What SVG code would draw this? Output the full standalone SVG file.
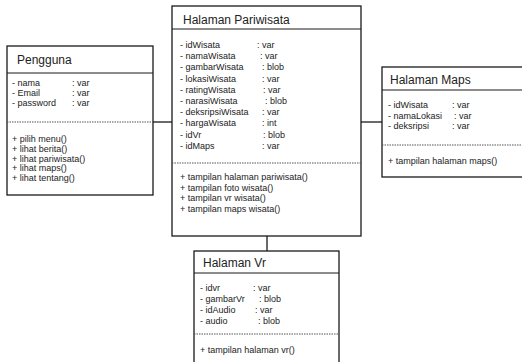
<svg xmlns="http://www.w3.org/2000/svg" width="522" height="362" viewBox="0 0 522 362">
<style>
.box{fill:#fff;stroke:#1a1a1a;stroke-width:1.3}
.sep{stroke:#1a1a1a;stroke-width:1.2}
.dot{stroke:#555;stroke-width:1;stroke-dasharray:1.5 1}
.conn{stroke:#1a1a1a;stroke-width:1.3;fill:none}
text{font-family:"Liberation Sans",Arial,sans-serif;fill:#222}
.t{font-size:12px}
.a{font-size:9px}
</style>
<rect width="522" height="362" fill="#fff"/>
<g id="connectors">
<line class="conn" x1="153" y1="122" x2="172" y2="122"/>
<line class="conn" x1="361" y1="122" x2="382" y2="122"/>
<line class="conn" x1="267" y1="236" x2="267" y2="251"/>
</g>
<g id="pengguna">
<rect class="box" x="7" y="46" width="146" height="149"/>
<line class="sep" x1="7" y1="73" x2="153" y2="73"/>
<line class="dot" x1="7" y1="122" x2="153" y2="122"/>
<text class="t" x="17" y="64">Pengguna</text>
<text class="a" x="12" y="86">- nama</text><text class="a" x="72" y="86">: var</text>
<text class="a" x="12" y="96">- Email</text><text class="a" x="72" y="96">: var</text>
<text class="a" x="12" y="106">- password</text><text class="a" x="72" y="106">: var</text>
<text class="a" x="12" y="142">+ pilih menu()</text>
<text class="a" x="12" y="151.8">+ lihat berita()</text>
<text class="a" x="12" y="161.6">+ lihat pariwisata()</text>
<text class="a" x="12" y="171.4">+ lihat maps()</text>
<text class="a" x="12" y="181.2">+ lihat tentang()</text>
</g>
<g id="pariwisata">
<rect class="box" x="172" y="6" width="189" height="230"/>
<line class="sep" x1="172" y1="29" x2="361" y2="29"/>
<line class="dot" x1="172" y1="163" x2="361" y2="163"/>
<text class="t" x="183" y="24">Halaman Pariwisata</text>
<text class="a" x="180" y="48">- idWisata</text><text class="a" x="257" y="48">: var</text>
<text class="a" x="180" y="59.2">- namaWisata</text><text class="a" x="260" y="59.2">: var</text>
<text class="a" x="180" y="70.4">- gambarWisata</text><text class="a" x="262" y="70.4">: blob</text>
<text class="a" x="180" y="81.6">- lokasiWisata</text><text class="a" x="262" y="81.6">: var</text>
<text class="a" x="180" y="92.8">- ratingWisata</text><text class="a" x="263" y="92.8">: var</text>
<text class="a" x="180" y="104">- narasiWisata</text><text class="a" x="265" y="104">: blob</text>
<text class="a" x="180" y="115.2">- deksripsiWisata</text><text class="a" x="262" y="115.2">: var</text>
<text class="a" x="180" y="126.4">- hargaWisata</text><text class="a" x="262" y="126.4">: int</text>
<text class="a" x="180" y="137.6">- idVr</text><text class="a" x="263" y="137.6">: blob</text>
<text class="a" x="180" y="148.8">- idMaps</text><text class="a" x="262" y="148.8">: var</text>
<text class="a" x="180" y="180">+ tampilan halaman pariwisata()</text>
<text class="a" x="180" y="190.5">+ tampilan foto wisata()</text>
<text class="a" x="180" y="201">+ tampilan vr wisata()</text>
<text class="a" x="180" y="211.5">+ tampilan maps wisata()</text>
</g>
<g id="maps">
<rect class="box" x="382" y="67" width="142" height="110"/>
<line class="sep" x1="382" y1="90" x2="522" y2="90"/>
<line class="dot" x1="382" y1="145" x2="522" y2="145"/>
<text class="t" x="390" y="84">Halaman Maps</text>
<text class="a" x="388" y="108">- idWisata</text><text class="a" x="452" y="108">: var</text>
<text class="a" x="388" y="118.5">- namaLokasi</text><text class="a" x="454" y="118.5">: var</text>
<text class="a" x="388" y="129">- deksripsi</text><text class="a" x="452" y="129">: var</text>
<text class="a" x="388" y="164">+ tampilan halaman maps()</text>
</g>
<g id="vr">
<rect class="box" x="194" y="251" width="145" height="115"/>
<line class="sep" x1="194" y1="273" x2="339" y2="273"/>
<line class="dot" x1="194" y1="334" x2="339" y2="334"/>
<text class="t" x="203" y="267">Halaman Vr</text>
<text class="a" x="200" y="291">- idvr</text><text class="a" x="253" y="291">: var</text>
<text class="a" x="200" y="302">- gambarVr</text><text class="a" x="259" y="302">: blob</text>
<text class="a" x="200" y="313">- idAudio</text><text class="a" x="255" y="313">: var</text>
<text class="a" x="200" y="323.5">- audio</text><text class="a" x="258" y="323.5">: blob</text>
<text class="a" x="200" y="353">+ tampilan halaman vr()</text>
</g>
</svg>
